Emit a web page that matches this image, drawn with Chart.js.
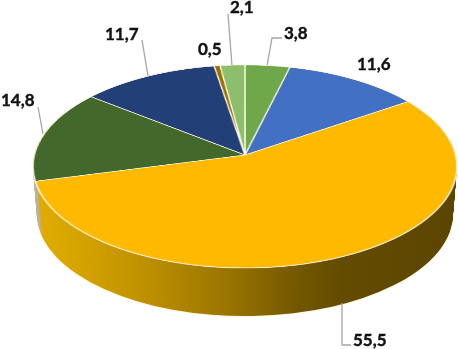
<!DOCTYPE html>
<html>
<head>
<meta charset="utf-8">
<style>
  html, body { margin: 0; padding: 0; background: #fff; overflow: hidden; }
  #stage { position: relative; width: 458px; height: 349px; overflow: hidden; }
  canvas { position: absolute; left: 0; top: 0; }
  #topFace { transform-origin: 0 0; }
</style>
<script src="https://cdn.jsdelivr.net/npm/chart.js@4"></script>
</head>
<body>
<div id="stage">
  <canvas id="wall" width="458" height="349"></canvas>
  <canvas id="topFace" width="458" height="458"></canvas>
</div>
<script>
const categories = ["a", "b", "c", "d", "e", "f", "g"];
const values = [3.8, 11.6, 55.5, 14.8, 11.7, 0.5, 2.1];
const topColors = ["#6fa84a", "#4270c2", "#ffba00", "#43682b", "#223f78", "#9a7000", "#8cbe6c"];
const wallColors = ["#4a7030", "#2c4b82", "#ffba00", "#b9b39e", "#172a50", "#674b00", "#5e7f48"];

// where the labels sit, same order as values
const labelX = [284, 357, 353, 1, 105, 198, 230];
const labelY = [39, 69.5, 345.5, 106, 40, 55, 13];
const leaders = [
  [[267, 66], [272, 38], [282, 38]],
  [],
  [[342, 303], [342, 345], [351, 345]],
  [[38, 107], [43, 134]],
  [[142, 40], [148, 76]],
  [],
  [[228, 14], [232, 66]],
];

// perspective of the top face: apex, half axes, tilt
const apexX = 245, apexY = 155, axisA = 210.6, axisB = 100.2, tilt = -0.1133;
// rim ellipses that the side wall runs between
const rimTop = { x: 245, y: 166.5, rx: 212, ry: 101.5 };
const rimBottom = { x: 245, y: 214, rx: 208, ry: 102 };
const wallSteps = 48;

function wallFill(context) {
  const color = wallColors[context.dataIndex];
  const area = context.chart.chartArea;
  // only these two slices show on the wall
  if ((context.dataIndex !== 2 && context.dataIndex !== 3) || !area) return color;
  const r = Math.min(area.right - area.left, area.bottom - area.top) / 2;
  const mid = (area.left + area.right) / 2;
  const g = context.chart.ctx.createLinearGradient(mid - r, 0, mid + r, 0);
  g.addColorStop(0, wallColors[3]);
  g.addColorStop(0.008, wallColors[3]);
  g.addColorStop(0.014, "#e0aa00");
  g.addColorStop(0.1, "#d6a400");
  g.addColorStop(0.28, "#ba8e00");
  g.addColorStop(0.46, "#997400");
  g.addColorStop(0.63, "#725700");
  g.addColorStop(0.73, "#634b00");
  g.addColorStop(1, "#5c4500");
  return g;
}

const wallPlugin = {
  id: "wallPlugin",
  beforeDatasetDraw(chart) {
    const ctx = chart.ctx;
    const arcs = chart.getDatasetMeta(0).data;
    const r = arcs[0].outerRadius;
    for (let i = wallSteps; i >= 0; i--) {
      const t = i / wallSteps;
      const cx = rimTop.x + (rimBottom.x - rimTop.x) * t;
      const cy = rimTop.y + (rimBottom.y - rimTop.y) * t;
      const rx = rimTop.rx + (rimBottom.rx - rimTop.rx) * t;
      const ry = rimTop.ry + (rimBottom.ry - rimTop.ry) * t;
      ctx.save();
      // soft pale edge under the lowest layer
      if (i === wallSteps) {
        ctx.shadowColor = "#ffe7a0";
        ctx.shadowBlur = 2;
      }
      ctx.translate(cx, cy);
      ctx.scale(rx / r, ry / r);
      ctx.translate(-arcs[0].x, -arcs[0].y);
      arcs.forEach((arc) => arc.draw(ctx));
      ctx.restore();
    }
    return false;
  },
  afterDraw(chart) {
    const ctx = chart.ctx;
    ctx.save();
    ctx.strokeStyle = "#a6a6a6";
    ctx.lineWidth = 1.3;
    leaders.forEach((line) => {
      if (!line.length) return;
      ctx.beginPath();
      line.forEach((p, i) => (i ? ctx.lineTo(p[0], p[1]) : ctx.moveTo(p[0], p[1])));
      ctx.stroke();
    });
    ctx.fillStyle = "#111";
    ctx.strokeStyle = "#111";
    ctx.lineWidth = 0.4;
    ctx.font = "bold 17px Lato";
    ctx.textBaseline = "alphabetic";
    values.forEach((v, i) => {
      const text = v.toFixed(1).replace(".", ",");
      ctx.fillText(text, labelX[i], labelY[i]);
      ctx.strokeText(text, labelX[i], labelY[i]);
    });
    ctx.restore();
  },
};

new Chart(document.getElementById("wall"), {
  type: "pie",
  data: {
    labels: categories,
    datasets: [{ data: values, backgroundColor: wallFill, borderWidth: 0 }],
  },
  options: {
    responsive: false,
    animation: false,
    plugins: { legend: { display: false }, tooltip: { enabled: false } },
  },
  plugins: [wallPlugin],
});

const topCanvas = document.getElementById("topFace");
const topChart = new Chart(topCanvas, {
  type: "pie",
  data: {
    labels: categories,
    datasets: [{
      data: values,
      backgroundColor: topColors,
      borderColor: "#fdf6e0",
      borderWidth: 1.6,
    }],
  },
  options: {
    responsive: false,
    animation: false,
    devicePixelRatio: 2,
    plugins: { legend: { display: false }, tooltip: { enabled: false } },
  },
});

// tilt the flat pie with a css perspective matrix
const first = topChart.getDatasetMeta(0).data[0];
const R = first.outerRadius, cx = first.x, cy = first.y;
const m = [
  axisA / R, 0, 0, 0,
  apexX * tilt / R, (axisB + apexY * tilt) / R, 0, tilt / R,
  0, 0, 1, 0,
  apexX - axisA * cx / R - apexX * tilt * cy / R,
  apexY - (axisB + apexY * tilt) * cy / R,
  0,
  1 - tilt * cy / R,
];
topCanvas.style.transform = "matrix3d(" + m.join(",") + ")";
</script>
</body>
</html>
